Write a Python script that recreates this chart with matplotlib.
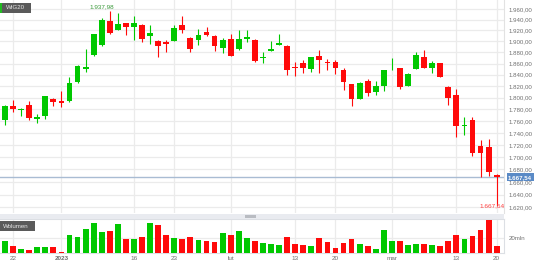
import matplotlib
matplotlib.use("Agg")
import matplotlib.pyplot as plt
from matplotlib.patches import Rectangle
from matplotlib.ticker import FixedLocator, FuncFormatter, NullLocator
import numpy as np

plt.rcParams['font.family'] = ['Liberation Sans', 'DejaVu Sans']

# ---------------- data ----------------
opens = [1762, 1786, 1779, 1788, 1764, 1769, 1798, 1794, 1794, 1828,
         1851, 1875, 1893, 1937.5, 1921, 1933, 1927, 1930, 1909, 1901,
         1898, 1901, 1930, 1907, 1901.6, 1917, 1910, 1888.6, 1904, 1887,
         1905, 1903, 1870, 1883, 1894, 1892, 1854.6, 1860.5, 1849.5, 1873.5,
         1862.6, 1862.6, 1848.4, 1823, 1797.8, 1829, 1810.4, 1821, 1853, 1851.4,
         1821, 1850.7, 1871.3, 1852.3, 1860.5, 1818.8, 1804, 1751, 1761, 1717.7,
         1716, 1671.6]
highs = [1788, 1796, 1783, 1794, 1772, 1803, 1799, 1812, 1836, 1857,
         1887, 1914, 1943, 1956, 1952, 1934, 1946, 1931.5, 1930, 1902,
         1902.5, 1930, 1947, 1908, 1922, 1927, 1911, 1907, 1912.6, 1921,
         1920, 1904, 1881.5, 1900, 1914, 1893, 1862.5, 1866.8, 1872, 1884,
         1867.8, 1865.6, 1852, 1824, 1828, 1832.5, 1829, 1849, 1869, 1852,
         1842.5, 1880, 1884, 1864.4, 1861, 1819.5, 1814.4, 1767.6, 1766.6, 1727.5,
         1730.4, 1672]
lows = [1754, 1775, 1769, 1762, 1757, 1763, 1786, 1784, 1793, 1826,
        1845, 1874, 1892, 1913, 1920, 1911.6, 1903, 1899, 1896, 1871.5,
        1881, 1900, 1916, 1881, 1893, 1910, 1883, 1878.6, 1873, 1883.7,
        1898, 1863, 1860.5, 1882, 1893, 1839.6, 1837.8, 1843, 1845, 1843,
        1848.6, 1842, 1813, 1785, 1797, 1802, 1804, 1811.7, 1848.6, 1814.4,
        1820.5, 1850, 1852, 1843, 1836, 1787, 1732.5, 1736, 1702, 1668,
        1669.6, 1622]
closes = [1786, 1780, 1781, 1765, 1767, 1802, 1792, 1791, 1825, 1856,
          1854.5, 1913.5, 1939, 1916, 1932, 1926, 1934, 1905, 1915.5, 1892,
          1895, 1924, 1921, 1887, 1912, 1912.5, 1892, 1902.5, 1873.5, 1904,
          1907.3, 1864, 1871.5, 1886.5, 1897.7, 1848.4, 1852.3, 1852.3, 1871.2, 1866.4,
          1860.8, 1851.4, 1827.6, 1797.3, 1825, 1808, 1820.4, 1848.4, 1854.6, 1819,
          1842, 1875.3, 1852.3, 1860.7, 1836.5, 1798.8, 1752, 1753, 1707.6, 1706.6,
          1676.5, 1667.54]
volume_mln = [15.2, 8.7, 5.2, 3.5, 8.2, 8.2, 7.4, 1.7, 23.8, 20.4,
              31.6, 39.0, 27.3, 29.0, 37.7, 18.6, 18.6, 20.4, 39.0, 36.0,
              23.0, 19.1, 18.2, 21.2, 16.5, 16.0, 14.7, 26.0, 23.8, 29.0,
              19.5, 15.6, 13.0, 12.1, 10.0, 20.4, 12.1, 10.8, 8.7, 19.1,
              13.9, 6.9, 13.4, 17.8, 11.3, 9.5, 5.2, 30.3, 16.0, 15.6,
              10.8, 11.7, 11.3, 10.4, 8.7, 15.6, 23.8, 18.6, 21.7, 29.5,
              43.3, 9.5]
tick_idx = [1, 7, 16, 21, 28, 36, 41, 48, 56, 61]
tick_labels = ['22', '2023', '16', '23', 'lut', '13', '20', 'mar', '13', '20']
price_ticks = list(range(1620, 1961, 20))
vol_ticks = [20]
title = 'WIG20'
vol_title = 'Wolumen'
high_label = '1.937,98'
low_label = '1.667,54'
last_label = '1.667,54'

GREEN = '#00c800'
RED = '#ff0a0a'
GRID = '#ebebeb'
TXT = '#707070'

def pl(v):
    s = f"{v:,.2f}"
    return s.replace(',', 'X').replace('.', ',').replace('X', '.')

W, H = 536, 265
fig = plt.figure(figsize=(W / 100, H / 100), dpi=100)
fig.patch.set_facecolor('white')

right_px = 504
ax = fig.add_axes([0, 1 - 213 / H, right_px / W, 213 / H])
axv = fig.add_axes([0, 1 - 253 / H, right_px / W, 34 / H])

n = len(opens)
x = np.arange(n)
o = np.array(opens); c = np.array(closes); hi = np.array(highs); lo = np.array(lows)
up = c >= o
cols = [GREEN if u else RED for u in up]

ax.set_yscale('log')
ax.set_ylim(1611.2, 1977.0)
ax.set_xlim(-0.62, 61.91)
ax.yaxis.set_major_locator(FixedLocator(price_ticks))
ax.yaxis.set_minor_locator(NullLocator())
ax.yaxis.set_major_formatter(FuncFormatter(lambda v, p: pl(v)))
ax.yaxis.tick_right()
ax.tick_params(axis='y', length=0, pad=3.5, labelsize=4.4, labelcolor=TXT)
ax.set_xticks(tick_idx)
ax.tick_params(axis='x', length=0, labelbottom=False)
ax.grid(True, color=GRID, lw=0.9)
ax.set_axisbelow(True)
for s in ax.spines.values():
    s.set_visible(False)
ax.spines['right'].set_visible(True)
ax.spines['right'].set_color('#e2e2e2')

ax.vlines(x, lo, hi, colors=cols, lw=0.8, zorder=2)
body_lo = np.minimum(o, c)
body_h = np.abs(c - o)
ax.bar(x, body_h, bottom=body_lo, width=0.72, color=cols, lw=0, zorder=3)

# last price line + box
last = closes[-1]
ax.axhline(last, color='#a9bcd3', lw=1.0, zorder=1.5)
ax.annotate(last_label, xy=(1.0, last), xycoords=('axes fraction', 'data'),
            xytext=(3, 0), textcoords='offset points', ha='left', va='center',
            fontsize=4.4, color='white', fontweight='bold',
            bbox=dict(boxstyle='square,pad=0.25', fc='#5a8ac6', ec='none'),
            annotation_clip=False, zorder=5)

# high / low labels
imax = int(np.argmax(hi)); imin = int(np.argmin(lo))
ax.annotate(high_label, xy=(imax, hi[imax]), xytext=(3, 1.5), textcoords='offset points',
            ha='right', va='bottom', fontsize=4.6, color='#3a9a3a', annotation_clip=False)
ax.annotate(low_label, xy=(imin, lo[imin]), xytext=(6, 0), textcoords='offset points',
            ha='right', va='center', fontsize=4.6, color='#ff4040', annotation_clip=False)

# volume
axv.set_xlim(-0.62, 61.91)
axv.set_ylim(0, 44.2)
axv.bar(x, volume_mln, width=0.72, color=cols, lw=0, zorder=3)
axv.set_xticks(tick_idx)
axv.set_xticklabels(tick_labels)
for lbl in axv.get_xticklabels():
    if lbl.get_text() == '2023':
        lbl.set_fontweight('bold')
axv.tick_params(axis='x', length=0, pad=2.5, labelsize=4.6, labelcolor=TXT)
axv.set_yticks(vol_ticks)
axv.yaxis.set_major_formatter(FuncFormatter(lambda v, p: f"{int(v)}mln"))
axv.yaxis.tick_right()
axv.tick_params(axis='y', length=0, pad=3.5, labelsize=4.4, labelcolor=TXT)
axv.grid(True, color=GRID, lw=0.9)
axv.set_axisbelow(True)
for s in axv.spines.values():
    s.set_color('#dcdfe4'); s.set_lw(0.8)
axv.spines['left'].set_visible(False)

# scrollbar band
fig.patches.append(Rectangle((0, 1 - 218.5 / H), right_px / W, 4.5 / H,
                             transform=fig.transFigure, fc='#e9ebf0', ec='none'))
fig.patches.append(Rectangle((245 / W, 1 - 218 / H), 11 / W, 3.5 / H,
                             transform=fig.transFigure, fc='#b9bcc2', ec='none'))

# title boxes
fig.patches.append(Rectangle((0, 1 - 12.5 / H), 31 / W, 9.5 / H,
                             transform=fig.transFigure, fc='#5a5a5a', ec='none', zorder=6))
fig.patches.append(Rectangle((0, 1 - 12.5 / H), 1.5 / W, 9.5 / H,
                             transform=fig.transFigure, fc='#22bb22', ec='none', zorder=7))
fig.text(6 / W, 1 - 7.8 / H, title, ha='left', va='center', fontsize=4.4,
         color='#e8e8e8', zorder=8)
fig.patches.append(Rectangle((0, 1 - 231 / H), 35 / W, 10 / H,
                             transform=fig.transFigure, fc='#5a5a5a', ec='none', zorder=6))
fig.text(3 / W, 1 - 226 / H, vol_title, ha='left', va='center', fontsize=4.4,
         color='#e8e8e8', zorder=8)

fig.savefig('out.png', dpi=100, facecolor='white')
